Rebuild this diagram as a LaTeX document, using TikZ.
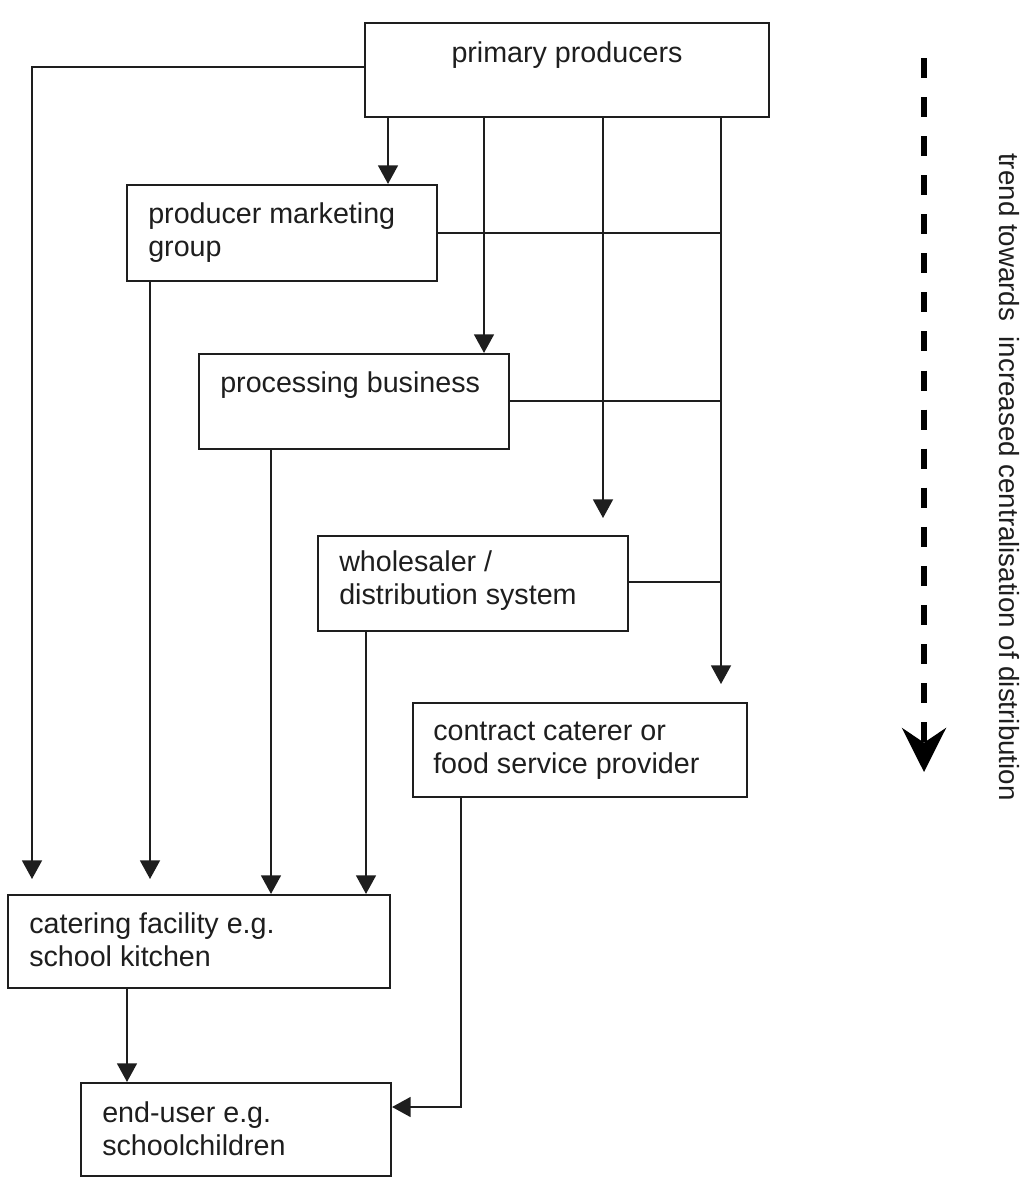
\documentclass[tikz,border=0pt]{standalone}
\usepackage{fontspec}
\setmainfont{Liberation Sans}
\usetikzlibrary{arrows.meta,fit}
\definecolor{ink}{HTML}{1E1E1E}
\begin{document}
\begin{tikzpicture}[x=0.75pt,y=-0.75pt,
  box/.style={draw=ink,line width=1.6pt,inner sep=0pt},
  lbl/.style={inner sep=0pt,text=ink,font=\fontsize{21.5}{24.75}\selectfont},
  conn/.style={draw=ink,line width=1.3pt},
  arr/.style={conn,-{Triangle[length=14pt,width=15pt]}},
  trend/.style={draw=black,line width=3.8pt,dash pattern=on 15pt off 14.3pt,
    -{Stealth[length=33pt,width=33pt,inset=11pt]}}]
\fill[white] (0,0) rectangle (1023,1178);
\useasboundingbox (0,0) rectangle (1023,1178);

% boxes
\node[box,fit={(365,23)(769,117)}] (pp) {};
\node[box,fit={(127,185)(437,281)}] (pmg) {};
\node[box,fit={(199,354)(509,449)}] (pb) {};
\node[box,fit={(318,536)(628,631)}] (ws) {};
\node[box,fit={(413,703)(747,797)}] (cc) {};
\node[box,fit={(8,895)(390,988)}] (cf) {};
\node[box,fit={(81,1083)(391,1176)}] (eu) {};

% labels
\node[lbl,anchor=base] (ppt) at (567,62) {primary producers};
\node[lbl,anchor=base west] (pmgt) at (148,223)
  {\begin{tabular}[t]{@{}l@{}}producer marketing\\group\end{tabular}};
\node[lbl,anchor=base west] (pbt) at (220,392) {processing business};
\node[lbl,anchor=base west] (wst) at (339,571)
  {\begin{tabular}[t]{@{}l@{}}wholesaler /\\distribution system\end{tabular}};
\node[lbl,anchor=base west] (cct) at (433,740)
  {\begin{tabular}[t]{@{}l@{}}contract caterer or\\food service provider\end{tabular}};
\node[lbl,anchor=base west] (cft) at (29,933)
  {\begin{tabular}[t]{@{}l@{}}catering facility e.g.\\school kitchen\end{tabular}};
\node[lbl,anchor=base west] (eut) at (102,1122)
  {\begin{tabular}[t]{@{}l@{}}end-user e.g.\\schoolchildren\end{tabular}};

% helper coordinates
\coordinate (ca) at (32,67);
\coordinate (cae) at (32,879);
\coordinate (cb) at (388,0);
\coordinate (cc0) at (484,0);
\coordinate (cd) at (603,518);
\coordinate (ce) at (721,684);
\coordinate (j1) at (721,233);
\coordinate (j2) at (721,401);
\coordinate (j3) at (721,582);
\coordinate (cf0) at (150,879);
\coordinate (cg) at (271,0);
\coordinate (ch) at (366,0);
\coordinate (ci) at (127,0);
\coordinate (cj) at (461,1107);

% connectors
\draw[arr] (pp.west |- ca) -- (ca) -- (cae);
\draw[arr] (pp.south -| cb) -- (pmg.north -| cb);
\draw[arr] (pp.south -| cc0) -- (pb.north -| cc0);
\draw[arr] (pp.south -| cd) -- (cd);
\draw[arr] (pp.south -| ce) -- (ce);
\draw[conn] (pmg.east |- j1) -- (j1);
\draw[conn] (pb.east |- j2) -- (j2);
\draw[conn] (ws.east |- j3) -- (j3);
\draw[arr] (pmg.south -| cf0) -- (cf0);
\draw[arr] (pb.south -| cg) -- (cf.north -| cg);
\draw[arr] (ws.south -| ch) -- (cf.north -| ch);
\draw[arr] (cf.south -| ci) -- (eu.north -| ci);
\draw[arr] (cc.south -| cj) -- (cj) -- (eu.east |- cj);

% trend arrow and label
\coordinate (t0) at (924,58);
\coordinate (t1) at (924,772);
\draw[trend] (t0) -- (t1);
\node[inner sep=0pt,text=ink,font=\fontsize{20.8}{24}\selectfont,
  rotate=-90,anchor=base west] (trendlbl) at (999,153)
  {trend towards\ \ increased centralisation of distribution};
\end{tikzpicture}
\end{document}
